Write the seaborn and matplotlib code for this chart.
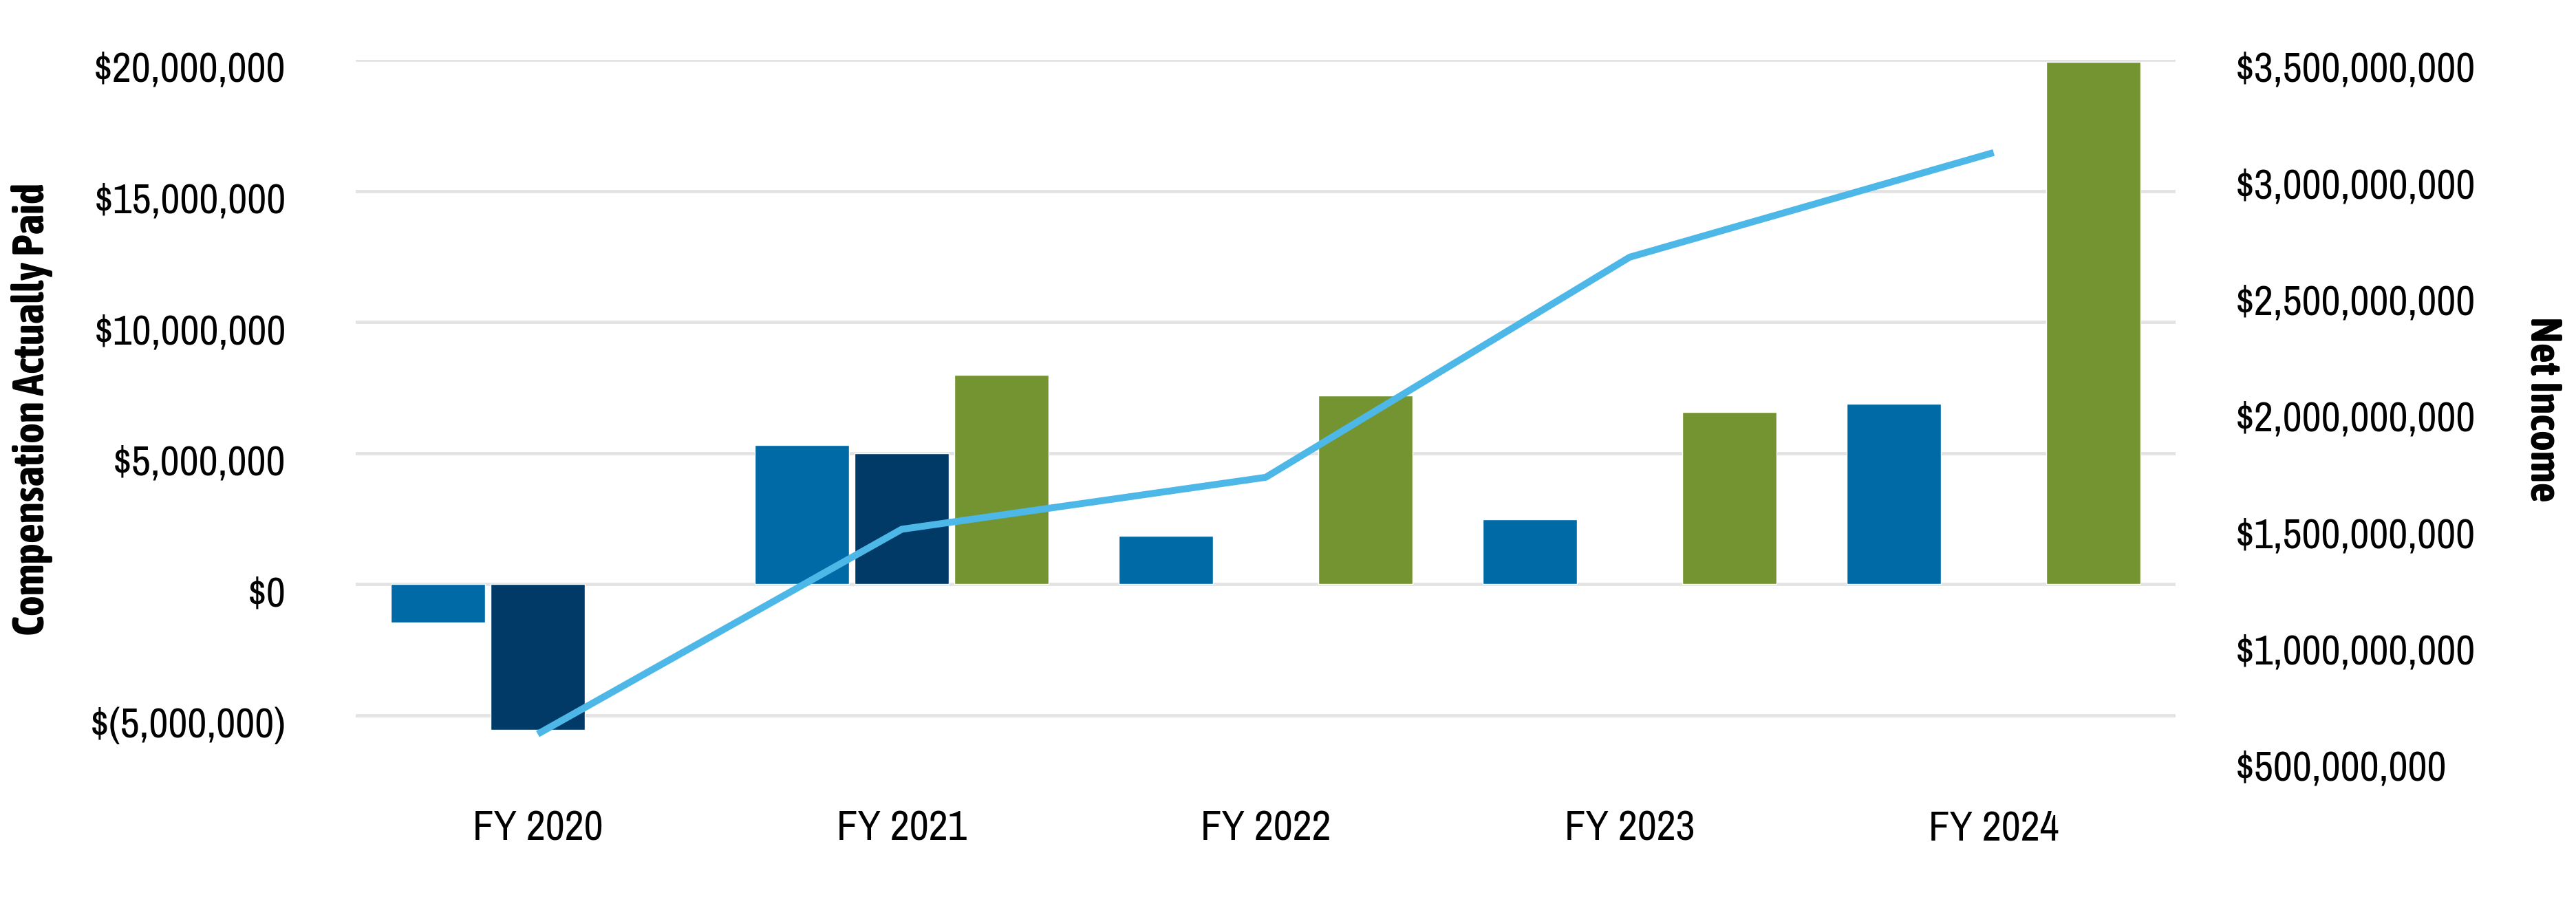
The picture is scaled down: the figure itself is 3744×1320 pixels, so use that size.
# Compensation Actually Paid vs Net Income

import numpy as np
import pandas as pd
import matplotlib
matplotlib.use("Agg")
import matplotlib.pyplot as plt
import matplotlib.transforms as mtransforms
from matplotlib import font_manager as fm
from matplotlib.ticker import FuncFormatter
import seaborn as sns


# Chart values
years = ["FY 2020", "FY 2021", "FY 2022", "FY 2023", "FY 2024"]
series_names = ["PEO 1 CAP", "PEO 2 CAP", "Average Non-PEO NEO CAP"]
peo1_cap = [-1.45e6, 5.32e6, 1.85e6, 2.48e6, 6.88e6]
peo2_cap = [-5.55e6, 5.00e6, np.nan, np.nan, np.nan]
neo_cap = [np.nan, 7.99e6, 7.20e6, 6.57e6, 19.92e6]
net_income = [0.606e9, 1.485e9, 1.708e9, 2.653e9, 3.102e9]

bar_colors = ["#006AA6", "#013A66", "#749432"]
line_color = "#4DB8E8"

# long format table for seaborn
bars = pd.DataFrame({
    "year": years * 3,
    "series": [series_names[0]] * 5 + [series_names[1]] * 5 + [series_names[2]] * 5,
    "cap": peo1_cap + peo2_cap + neo_cap,
}).dropna()

sns.set_style("white")
plt.rcParams["font.family"] = ["Liberation Sans", "DejaVu Sans"]

WEIGHTS = {"ultralight": 200, "light": 300, "normal": 400, "regular": 400, "book": 400,
           "medium": 500, "semibold": 600, "demibold": 600, "bold": 700,
           "heavy": 800, "extra bold": 800, "black": 900}


# the reference uses a narrow face (Arial Narrow); take one if there is one
def pick_font(target):
    narrow = []
    for f in fm.fontManager.ttflist:
        is_narrow = ("Narrow" in f.name or "Condensed" in f.name
                     or str(f.stretch) in ("condensed", "semi-condensed", "extra-condensed"))
        w = f.weight if isinstance(f.weight, int) else WEIGHTS.get(str(f.weight), 400)
        if is_narrow and f.style == "normal":
            narrow.append((abs(w - target), 0 if "Liberation" in f.name else 1, f.name, f.fname))
    if narrow:
        narrow.sort()
        return fm.FontProperties(fname=narrow[0][3])
    return fm.FontProperties(family=["Liberation Sans", "DejaVu Sans"],
                             weight="bold" if target >= 600 else "normal")


fp_reg = pick_font(400)
fp_bold = pick_font(700)

fig = plt.figure(figsize=(37.44, 13.2), dpi=100)


# size a font so a sample string gets the width it has in the reference
def fit_size(fp, sample, width_px, max_size):
    t = fig.text(0, 0, sample, fontproperties=fp, fontsize=40)
    fig.canvas.draw()
    w = t.get_window_extent().width
    t.remove()
    return min(max_size, 40 * width_px / w)


tick_size = fit_size(fp_reg, "$20,000,000", 283, 44)
title_size = fit_size(fp_bold, "Compensation Actually Paid", 707, 46)

ax = fig.add_axes([0.1381, 0.1644, 0.7065, 0.7697])

sns.barplot(data=bars, x="year", y="cap", hue="series", order=years,
            hue_order=series_names, palette=bar_colors, width=0.822, gap=0.055,
            errorbar=None, legend=False, saturation=1, ax=ax)

ax.set_xlim(-0.5, len(years) - 0.5)
ax.set_ylim(-6.65e6, 20e6)
ax.set_yticks([-5e6, 0, 5e6, 10e6, 15e6, 20e6])
ax.yaxis.set_major_formatter(FuncFormatter(
    lambda v, p: "${:,.0f}".format(v) if v >= 0 else "$({:,.0f})".format(-v)))
ax.grid(axis="y", color="#E3E3E3", linewidth=3.4)
ax.grid(axis="x", visible=False)
ax.set_axisbelow(True)
ax.tick_params(axis="both", length=0, colors="black")
ax.tick_params(axis="y", pad=73)
ax.tick_params(axis="x", pad=54)
ax.set_xlabel("")
ax.set_ylabel("Compensation Actually Paid", fontproperties=fp_bold, fontsize=title_size,
              color="black")
ax.yaxis.set_label_coords(-0.178, 0.5)
ax.yaxis.label.set_va("center")

# Net income on the right axis
ax2 = ax.twinx()
sns.lineplot(x=range(len(years)), y=net_income, color=line_color,
             linewidth=7.2, solid_capstyle="butt", ax=ax2)
ax2.set_ylim(0.5e9, 3.5e9)
ax2.set_yticks(np.arange(0.5e9, 3.51e9, 0.5e9))
ax2.yaxis.set_major_formatter(FuncFormatter(lambda v, p: "${:,.0f}".format(v)))
ax2.grid(False)
ax2.tick_params(axis="y", length=0, pad=62, colors="black")
ax2.set_ylabel("Net Income", fontproperties=fp_bold, fontsize=title_size, rotation=270,
               color="black")
ax2.yaxis.set_label_coords(1.2019, 0.5)
ax2.yaxis.label.set_va("center")

for a in (ax, ax2):
    for s in a.spines.values():
        s.set_visible(False)

# Excel puts the value labels a little below their gridlines
shift = mtransforms.ScaledTranslation(0, -0.10, fig.dpi_scale_trans)
for lab in ax.get_yticklabels() + ax2.get_yticklabels():
    lab.set_transform(lab.get_transform() + shift)
for lab in ax.get_yticklabels() + ax2.get_yticklabels() + ax.get_xticklabels():
    lab.set_fontproperties(fp_reg)
    lab.set_fontsize(tick_size)
    lab.set_color("black")

fig.savefig("out.png", dpi=100)
